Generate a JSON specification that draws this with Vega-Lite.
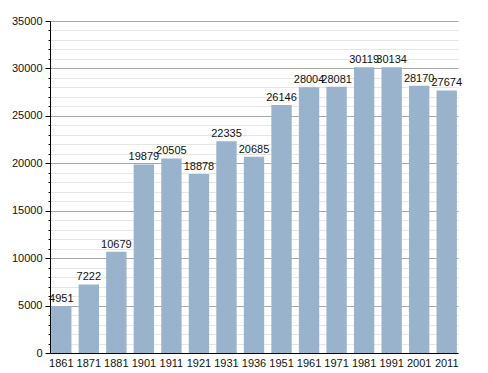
{
  "$schema": "https://vega.github.io/schema/vega-lite/v6.json",
  "width": 408,
  "height": 332,
  "autosize": {"type": "none"},
  "padding": {"left": 50, "top": 21, "right": 30, "bottom": 20},
  "background": "white",
  "config": {
    "view": {"stroke": null},
    "font": "Liberation Sans"
  },
  "data": {
    "values": [
      {"year": "1861", "pop": 4951},
      {"year": "1871", "pop": 7222},
      {"year": "1881", "pop": 10679},
      {"year": "1901", "pop": 19879},
      {"year": "1911", "pop": 20505},
      {"year": "1921", "pop": 18878},
      {"year": "1931", "pop": 22335},
      {"year": "1936", "pop": 20685},
      {"year": "1951", "pop": 26146},
      {"year": "1961", "pop": 28004},
      {"year": "1971", "pop": 28081},
      {"year": "1981", "pop": 30119},
      {"year": "1991", "pop": 30134},
      {"year": "2001", "pop": 28170},
      {"year": "2011", "pop": 27674}
    ]
  },
  "encoding": {
    "x": {
      "field": "year", "type": "ordinal", "sort": null,
      "scale": {"paddingInner": 0.26, "paddingOuter": 0.04},
      "axis": {
        "title": null, "labelAngle": 0, "ticks": false, "labelPadding": 4,
        "labelFontSize": 11, "labelColor": "#111", "domainColor": "#000", "domainWidth": 1
      }
    },
    "y": {
      "field": "pop", "type": "quantitative",
      "scale": {"domain": [0, 35000], "nice": false},
      "axis": {
        "title": null,
        "values": [0,1000,2000,3000,4000,5000,6000,7000,8000,9000,10000,11000,12000,13000,14000,15000,16000,17000,18000,19000,20000,21000,22000,23000,24000,25000,26000,27000,28000,29000,30000,31000,32000,33000,34000,35000],
        "labelExpr": "datum.value % 5000 === 0 ? datum.value : ''",
        "labelFontSize": 11, "labelColor": "#111", "labelPadding": 3,
        "domainColor": "#000", "domainWidth": 1,
        "tickColor": "#000",
        "tickSize": {"condition": {"test": "datum.value % 5000 === 0", "value": 5}, "value": 2},
        "gridColor": {"condition": {"test": "datum.value % 5000 === 0", "value": "#a8a8a8"}, "value": "#e6e6e6"},
        "gridWidth": 1
      }
    }
  },
  "layer": [
    {"mark": {"type": "bar", "color": "#9ab3cc"}},
    {
      "mark": {"type": "text", "dy": -7, "fontSize": 11, "color": "#111"},
      "encoding": {"text": {"field": "pop", "type": "quantitative", "format": "d"}}
    }
  ]
}
